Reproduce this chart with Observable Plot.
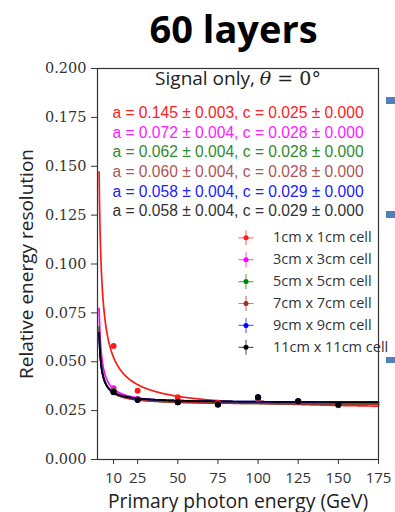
<!DOCTYPE html>
<html><head><meta charset="utf-8">
<script src="https://cdn.jsdelivr.net/npm/d3@7"></script>
<script src="https://cdn.jsdelivr.net/npm/@observablehq/plot@0.6"></script>
<style>
body{margin:0;background:#fff;width:395px;height:512px;overflow:hidden;position:relative}
#title{position:absolute;left:72px;right:0;top:9px;text-align:center;font:bold 38px 'Open Sans';line-height:1;color:#000}
#chart{position:absolute;left:0;top:55px}
.deco{position:absolute;background:#4f81bd;left:386px;width:9px}
</style></head><body>
<div id="title">60 layers</div>
<div id="chart"></div>
<div class="deco" style="top:97px;height:7px"></div>
<div class="deco" style="top:211px;height:7px"></div>
<div class="deco" style="top:357px;height:6px"></div>
<script>
const energies = [10, 25, 50, 75, 100, 125, 150];
const seriesNames = ["1cm x 1cm cell", "3cm x 3cm cell", "5cm x 5cm cell", "7cm x 7cm cell", "9cm x 9cm cell", "11cm x 11cm cell"];
const colors = ["#ff1a1a", "#ff00ff", "#008000", "#a52a2a", "#0000ff", "#000000"];
const textColors = ["#ff2020", "#ff20ff", "#2e8b2e", "#b05555", "#2020ff", "#333333"];
const aVals = [0.145, 0.072, 0.062, 0.060, 0.058, 0.058];
const aErrs = [0.003, 0.004, 0.004, 0.004, 0.004, 0.004];
const cVals = [0.025, 0.028, 0.028, 0.028, 0.029, 0.029];
const cErrs = [0.000, 0.000, 0.000, 0.000, 0.000, 0.000];
const res1cm  = [0.0580, 0.0352, 0.0318, 0.0290, 0.0310, 0.0297, 0.0281];
const res3cm  = [0.0364, 0.0310, 0.0295, 0.0283, 0.0314, 0.0296, 0.0277];
const res5cm  = [0.0350, 0.0306, 0.0294, 0.0282, 0.0316, 0.0297, 0.0280];
const res7cm  = [0.0347, 0.0305, 0.0293, 0.0281, 0.0317, 0.0298, 0.0280];
const res9cm  = [0.0345, 0.0305, 0.0293, 0.0281, 0.0318, 0.0298, 0.0281];
const res11cm = [0.0344, 0.0305, 0.0293, 0.0281, 0.0318, 0.0298, 0.0281];
const allRes = [res1cm, res3cm, res5cm, res7cm, res9cm, res11cm];
const xTicks = [10, 25, 50, 75, 100, 125, 150, 175];
const yTicks = [0, 0.025, 0.05, 0.075, 0.1, 0.125, 0.15, 0.175, 0.2];

const points = [];
allRes.forEach((arr, i) => arr.forEach((v, j) => points.push({series: seriesNames[i], E: energies[j], r: v})));
// fit curves sigma/E = a/sqrt(E) (+) c, from the fitted parameters shown
const fitE = d3.range(1, 175.01, 0.25);
const curves = [];
seriesNames.forEach((s, i) => fitE.forEach(E => curves.push({series: s, E, r: Math.sqrt(aVals[i] ** 2 / E + cVals[i] ** 2)})));

const f3 = d3.format(".3f");
const marks = [
  Plot.line(curves, {x: "E", y: "r", z: "series", stroke: "series", strokeWidth: 1.7}),
  Plot.dot(points, {x: "E", y: "r", fill: "series", r: 3}),
  Plot.frame({stroke: "#333", strokeWidth: 1.2}),
  Plot.axisX({ticks: xTicks, tickSize: 5, tickPadding: 8, label: null, fontSize: 15, fontFamily: "Open Sans", fill: "#333", stroke: "#333"}),
  Plot.axisY({ticks: yTicks, tickFormat: f3, tickSize: 6, tickPadding: 5, label: null, fontSize: 14.5, fontFamily: "DejaVu Serif", fill: "#333", stroke: "#333"}),
  Plot.text(["Primary photon energy (GeV)"], {frameAnchor: "bottom", dy: 48, lineAnchor: "bottom", fontSize: 19.3, fontFamily: "Open Sans", fill: "#222"}),
  Plot.text(["Relative energy resolution"], {frameAnchor: "left", dx: -70.5, rotate: -90, textAnchor: "middle", lineAnchor: "middle", fontSize: 19, fontFamily: "Open Sans", fill: "#222"}),
  Plot.text(["Signal only, θ = 0°"], {frameAnchor: "top", dy: 10.5, lineAnchor: "middle", fontSize: 19, fontFamily: "Open Sans", fill: "#222", className: "sigtitle"})
];
seriesNames.forEach((s, i) => {
  marks.push(Plot.text([`a = ${f3(aVals[i])} ± ${f3(aErrs[i])}, c = ${f3(cVals[i])} ± ${f3(cErrs[i])}`],
    {frameAnchor: "top", dy: 44.3 + 19.7 * i, lineAnchor: "middle", fontSize: 15.6, fontFamily: "Liberation Sans", fill: textColors[i]}));
  const dy = 169.3 + 21.9 * i;
  marks.push(Plot.dot([s], {frameAnchor: "top-left", dx: 148.5, dy, symbol: "plus", r: 4.9, stroke: colors[i], strokeOpacity: 0.6, strokeWidth: 1.2}));
  marks.push(Plot.dot([s], {frameAnchor: "top-left", dx: 148.5, dy, r: 2.5, fill: colors[i]}));
  marks.push(Plot.text([s], {frameAnchor: "top-left", dx: 175.5, dy, textAnchor: "start", lineAnchor: "middle", fontSize: 14.5, fontFamily: "Open Sans", fill: "#333"}));
});

const chart = Plot.plot({
  width: 395, height: 457,
  marginLeft: 97, marginRight: 17, marginTop: 13, marginBottom: 53,
  x: {domain: [0, 175]},
  y: {domain: [0, 0.2]},
  color: {domain: seriesNames, range: colors},
  style: {fontFamily: "Open Sans", background: "#fff", overflow: "visible"},
  marks
});
document.getElementById("chart").appendChild(chart);
// italic math theta in the in-plot heading
d3.select(chart).selectAll("text").filter(function() { return this.textContent === "Signal only, θ = 0°"; }).each(function() {
  const t = d3.select(this);
  t.text(null);
  t.append("tspan").text("Signal only, ");
  t.append("tspan").attr("font-family", "DejaVu Serif").attr("font-style", "italic").text("θ");
  t.append("tspan").attr("font-family", "DejaVu Serif").text(" = 0°");
});
</script>
</body></html>
